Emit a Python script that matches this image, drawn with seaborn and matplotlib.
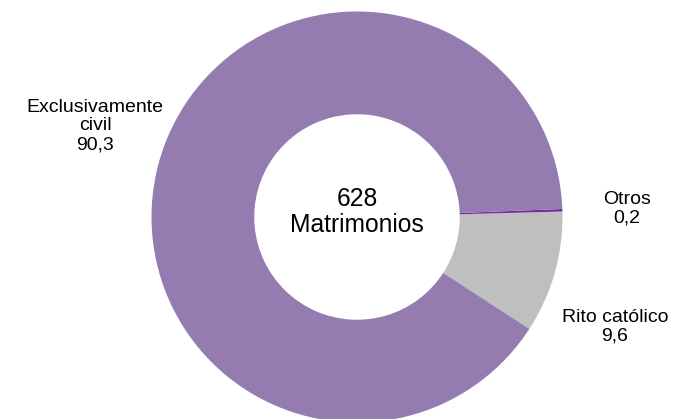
import matplotlib
matplotlib.use("Agg")
import matplotlib.pyplot as plt
import seaborn as sns

# datos (orden antihorario desde la parte inferior derecha)
categorias = ["Rito católico", "Otros", "Exclusivamente\ncivil"]
porcentajes = [9.6, 0.2, 90.3]
colores = ["#BFBFBF", "#7030A0", "#947CB0"]
total_matrimonios = 628

sns.set_theme(style="white")
plt.rcParams['font.family'] = ['Liberation Sans', 'DejaVu Sans']

fig = plt.figure(figsize=(6.93, 4.19), dpi=100)
ax = fig.add_axes([0, 0, 1, 1])

# centro y radio del anillo en pixeles
cx, cy, r = 357, 217, 205.5

def px(x, y):
    return (x - cx) / r, (cy - y) / r

wedges, _ = ax.pie(porcentajes, colors=colores, startangle=-33, counterclock=True,
                   radius=1, wedgeprops=dict(width=0.5, linewidth=0))

# etiquetas de las categorias
pos_etiquetas = [(615, 326.5), (627, 209), (95, 126)]
for cat, val, (x, y) in zip(categorias, porcentajes, pos_etiquetas):
    tx, ty = px(x, y)
    ax.text(tx, ty, f"{cat}\n{val:.1f}".replace(".", ","), ha="center", va="center",
            multialignment="center", fontsize=14, linespacing=1.15, color="#000000")

tx, ty = px(357, 212)
ax.text(tx, ty, f"{total_matrimonios}\nMatrimonios", ha="center", va="center",
        multialignment="center", fontsize=17.7, linespacing=1.15, color="#000000")

x0, _ = px(0, 0)
x1, _ = px(693, 0)
_, y0 = px(0, 419)
_, y1 = px(0, 0)
ax.set_xlim(x0, x1)
ax.set_ylim(y0, y1)
ax.set_aspect("auto")
ax.axis("off")

fig.savefig("out.png", dpi=100)
